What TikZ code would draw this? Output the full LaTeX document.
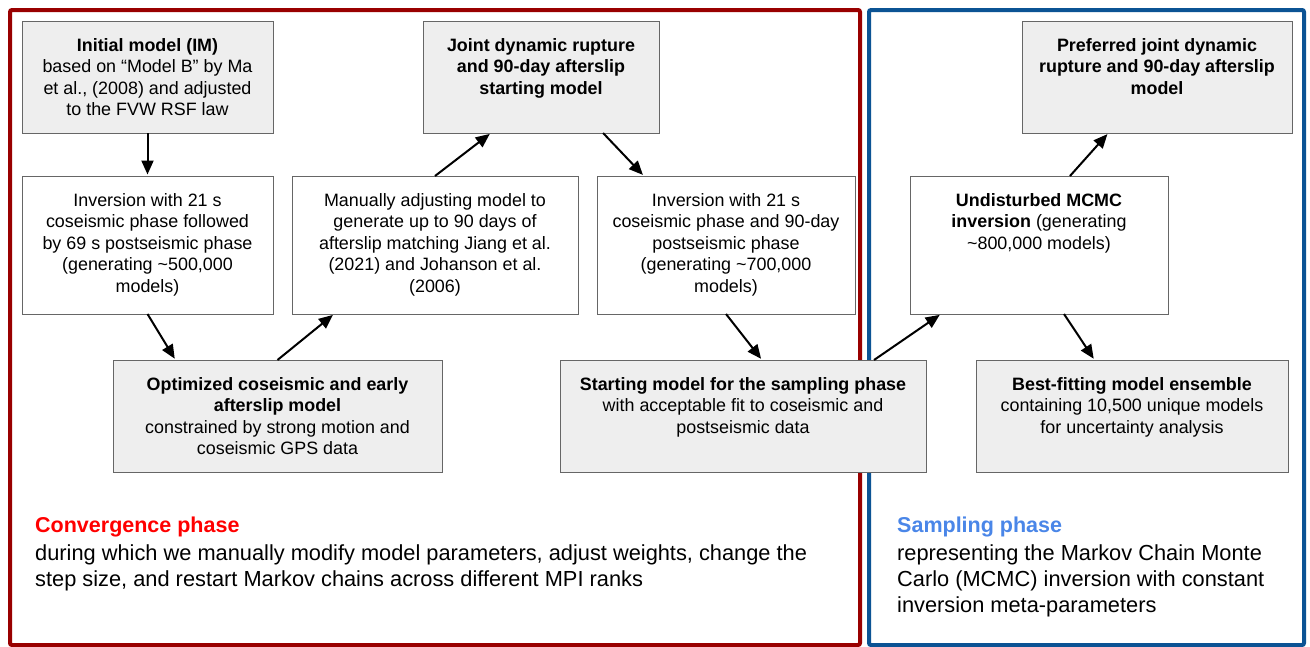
\documentclass[tikz,border=0pt]{standalone}
\usepackage{fontspec}
\setmainfont{Liberation Sans}
\usetikzlibrary{arrows.meta,calc}
\definecolor{framered}{HTML}{990000}
\definecolor{frameblue}{HTML}{0B5394}
\definecolor{boxfill}{HTML}{EEEEEE}
\definecolor{boxline}{HTML}{666666}
\definecolor{convred}{HTML}{FF0000}
\definecolor{sampblue}{HTML}{4A86E8}
\newcommand{\bxt}[3]{\parbox[c][#2][t]{#1}{\centering\vspace*{15pt}\strut#3}}
\begin{document}
\begin{tikzpicture}[x=1pt,y=-1pt,
 box/.style={draw=boxline,line width=1pt,inner sep=0pt,outer sep=0pt,anchor=north west,font=\fontsize{17.9}{21.6}\selectfont},
 gbox/.style={box,fill=boxfill},
 wbox/.style={box,fill=white},
 arr/.style={line width=2pt,-{Triangle[length=14pt,width=12pt]},shorten >=1.5pt},
 phaseframe/.style={line width=4pt,rounded corners=2pt},
 note/.style={anchor=north west,inner sep=0pt,align=left,font=\fontsize{21.8}{26}\selectfont}]
\useasboundingbox (0,0) rectangle (1310,646);
\path[fill=white] (0,0) rectangle (1310,646);
\draw[phaseframe,framered] (10,10) rectangle (860,645);
\draw[phaseframe,frameblue] (869,10) rectangle (1304,645);
% boxes
\node[gbox] (im) at (22,21) {\bxt{251pt}{112pt}{\textbf{Initial model (IM)}\\based on “Model B” by Ma\\et al., (2008) and adjusted\\to the FVW RSF law}};
\node[gbox] (joint) at (423,21) {\bxt{236pt}{112pt}{\textbf{Joint dynamic rupture}\\\textbf{and 90-day afterslip}\\\textbf{starting model}}};
\node[gbox] (pref) at (1022,21) {\bxt{270pt}{112pt}{\textbf{Preferred joint dynamic}\\\textbf{rupture and 90-day afterslip}\\\textbf{model}}};
\node[wbox] (inva) at (22,176) {\bxt{251pt}{138pt}{Inversion with 21 s\\coseismic phase followed\\by 69 s postseismic phase\\(generating \textasciitilde500,000\\models)}};
\node[wbox] (man) at (292,176) {\bxt{286pt}{138pt}{Manually adjusting model to\\generate up to 90 days of\\afterslip matching Jiang et al.\\(2021) and Johanson et al.\\(2006)}};
\node[wbox] (invb) at (597,176) {\bxt{258pt}{138pt}{Inversion with 21 s\\coseismic phase and 90-day\\postseismic phase\\(generating \textasciitilde700,000\\models)}};
\node[wbox] (und) at (910,176) {\bxt{258pt}{138pt}{\textbf{Undisturbed MCMC}\\\textbf{inversion} (generating\\\textasciitilde800,000 models)}};
\node[gbox] (opt) at (113,360) {\bxt{329pt}{112pt}{\textbf{Optimized coseismic and early}\\\textbf{afterslip model}\\constrained by strong motion and\\coseismic GPS data}};
\node[gbox] (start) at (560,360) {\bxt{366pt}{112pt}{\textbf{Starting model for the sampling phase}\\with acceptable fit to coseismic and\\postseismic data}};
\node[gbox] (best) at (976,360) {\bxt{312pt}{112pt}{\textbf{Best-fitting model ensemble}\\containing 10,500 unique models\\for uncertainty analysis}};
% arrows
\draw[arr] (im.south) -- (inva.north);
\draw[arr] (inva.south) -- ($(opt.north west)!0.19!(opt.north east)$);
\draw[arr] (opt.north) -- ($(man.south west)!0.147!(man.south east)$);
\draw[arr] (man.north) -- ($(joint.south west)!0.288!(joint.south east)$);
\draw[arr] ($(joint.south west)!0.763!(joint.south east)$) -- ($(invb.north west)!0.182!(invb.north east)$);
\draw[arr] (invb.south) -- ($(start.north west)!0.552!(start.north east)$);
\draw[arr] ($(start.north west)!0.858!(start.north east)$) -- ($(und.south west)!0.12!(und.south east)$);
\draw[arr] ($(und.north west)!0.62!(und.north east)$) -- ($(pref.south west)!0.32!(pref.south east)$);
\draw[arr] ($(und.south west)!0.597!(und.south east)$) -- ($(best.north west)!0.38!(best.north east)$);
% phase notes
\node[note] (conv) at (35,514) {{\color{convred}\bfseries\fontsize{21.5}{26}\selectfont\strut Convergence phase}\\[2pt]during which we manually modify model parameters, adjust weights, change the\\step size, and restart Markov chains across different MPI ranks};
\node[note] (samp) at (897,514) {{\color{sampblue}\bfseries\fontsize{21.5}{26}\selectfont\strut Sampling phase}\\[2pt]representing the Markov Chain Monte\\Carlo (MCMC) inversion with constant\\inversion meta-parameters};
\end{tikzpicture}
\end{document}
